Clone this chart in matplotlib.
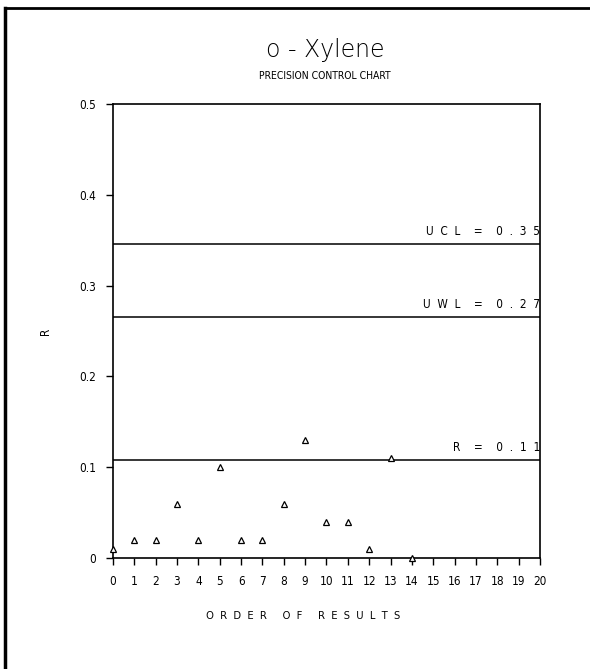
"""Precision control chart (range chart) for o-Xylene."""

import matplotlib
matplotlib.use('Agg')
import matplotlib.pyplot as plt
from matplotlib.lines import Line2D

# Data
order = [0, 1, 2, 3, 4, 5, 6, 7, 8, 9, 10, 11, 12, 13, 14]
ranges = [0.01, 0.02, 0.02, 0.06, 0.02, 0.10, 0.02, 0.02, 0.06, 0.13,
          0.04, 0.04, 0.01, 0.11, 0.0]

limit_values = [0.346, 0.265, 0.108]
limit_labels = ["U  C  L    =    0  .  3  5",
                "U  W  L    =    0  .  2  7",
                "R    =    0  .  1  1"]

x_ticks = list(range(0, 21))
y_ticks = [0, 0.1, 0.2, 0.3, 0.4, 0.5]
y_tick_labels = ["0", "0.1", "0.2", "0.3", "0.4", "0.5"]

plt.rcParams['font.family'] = ['DejaVu Sans']
plt.rcParams['font.stretch'] = 'condensed'

fig = plt.figure(figsize=(5.9, 6.69), dpi=100)
ax = fig.add_axes([0.1915, 0.1659, 0.7237, 0.6786])

# Control limit lines
for val, lab in zip(limit_values, limit_labels):
    ax.axhline(val, color='black', linewidth=1.1)
    ax.text(20, val + 0.007, lab, ha='right', va='bottom', fontsize=8.5)

# Results
ax.plot(order, ranges, linestyle='none', marker='^', markersize=5,
        markerfacecolor='white', markeredgecolor='black', markeredgewidth=0.9,
        clip_on=False, zorder=3)

ax.set_xlim(0, 20)
ax.set_ylim(0, 0.5)
ax.set_xticks(x_ticks)
ax.set_xticklabels([str(t) for t in x_ticks], fontsize=8.5)
ax.set_yticks(y_ticks)
ax.set_yticklabels(y_tick_labels, fontsize=8.5)
ax.tick_params(axis='both', direction='out', length=5, width=1, pad=7)
for s in ax.spines.values():
    s.set_linewidth(1.2)

ax.set_ylabel("R", fontsize=8.5, labelpad=20)

fig.text(0.513, 0.079, "O  R  D  E  R     O  F     R  E  S  U  L  T  S",
         ha='center', va='center', fontsize=8)
fig.text(0.551, 0.925, "o - Xylene", ha='center', va='center', fontsize=17,
         fontweight='light', fontstretch='normal')
fig.text(0.551, 0.886, "PRECISION CONTROL CHART", ha='center', va='center',
         fontsize=7.5)

# Scanned page frame (left and top edges)
fig.add_artist(Line2D([0.009, 0.009], [0, 0.988], transform=fig.transFigure,
                      color='black', linewidth=2.5))
fig.add_artist(Line2D([0.009, 1.0], [0.988, 0.988], transform=fig.transFigure,
                      color='black', linewidth=2))

fig.savefig('out.png', dpi=100)
